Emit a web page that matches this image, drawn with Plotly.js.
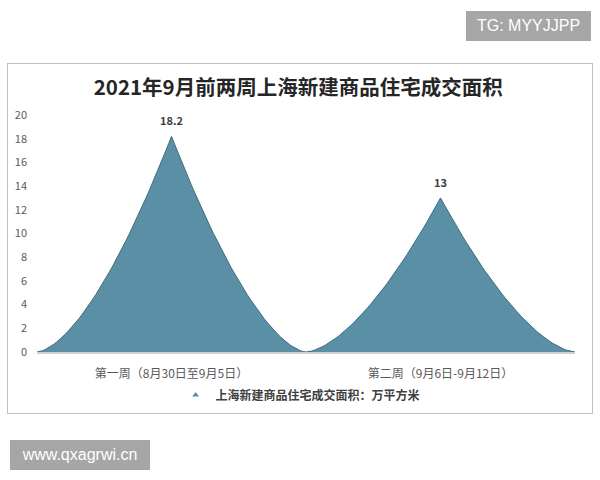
<!DOCTYPE html>
<html>
<head>
<meta charset="utf-8">
<script src="https://cdn.plot.ly/plotly-3.0.1.min.js"></script>
<style>
  html, body { margin: 0; padding: 0; background: #ffffff; }
  #wrap { position: relative; width: 600px; height: 480px; overflow: hidden; }
  #chart { position: absolute; left: 0; top: 0; width: 600px; height: 480px; }
  .frame { position: absolute; left: 7px; top: 63px; width: 584px; height: 349px; border: 1px solid #bfbfbf; pointer-events: none; }
  .wm { position: absolute; background: #a6a6a6; color: #ffffff; font-family: "Liberation Sans", Arial, sans-serif; font-size: 16px; display: flex; align-items: center; justify-content: center; }
</style>
</head>
<body>
<div id="wrap">
  <div id="chart"></div>
  <div class="frame"></div>
  <div class="wm" style="left:466px; top:11px; width:125px; height:30px;">TG: MYYJJPP</div>
  <div class="wm" style="left:10px; top:440px; width:140px; height:30px;">www.qxagrwi.cn</div>
</div>
<script>
const chartTitle = '2021年9月前两周上海新建商品住宅成交面积';
const categories = ['第一周（8月30日至9月5日）', '第二周（9月6日-9月12日）'];
const values = [18.2, 13];
const valueLabels = ['18.2', '13'];
const seriesName = '上海新建商品住宅成交面积：万平方米';
const yTickVals = [0, 2, 4, 6, 8, 10, 12, 14, 16, 18, 20];

const FILL = '#5b8fa5';
const EDGE = '#3f6d7e';
const FONT = '"Noto Sans CJK SC", "Noto Sans", sans-serif';

// Build a concave "peak" outline for each category from its value
function peak(i, v) {
  const n = 48, p = 1.6;
  const xs = [], ys = [];
  for (let k = 0; k <= n; k++) {
    const t = k / n;
    xs.push(i - 0.5 + 0.5 * t);
    ys.push(v * Math.pow(t, p));
  }
  for (let k = n - 1; k >= 0; k--) {
    const t = k / n;
    xs.push(i + 0.5 - 0.5 * t);
    ys.push(v * Math.pow(t, p));
  }
  return { xs, ys };
}

const traces = [];
values.forEach((v, i) => {
  const pk = peak(i, v);
  traces.push({
    type: 'scatter', mode: 'lines',
    x: pk.xs, y: pk.ys,
    fill: 'toself', fillcolor: FILL,
    line: { color: EDGE, width: 1 },
    showlegend: false, hoverinfo: 'skip', cliponaxis: false
  });
});

// legend entry
traces.push({
  type: 'scatter', mode: 'markers',
  x: [null], y: [null],
  name: seriesName,
  marker: { symbol: 'triangle-up', size: 6, color: FILL },
  showlegend: true
});

const annotations = values.map((v, i) => ({
  x: i, y: v, xref: 'x', yref: 'y',
  text: '<b>' + valueLabels[i] + '</b>',
  showarrow: false, yanchor: 'bottom', yshift: 6,
  font: { family: FONT, size: 11, color: '#404040' }
}));

const layout = {
  width: 600, height: 480,
  paper_bgcolor: 'rgba(0,0,0,0)',
  plot_bgcolor: 'rgba(0,0,0,0)',
  margin: { l: 37, r: 25, t: 115, b: 128 },
  title: {
    text: '<b>' + chartTitle + '</b>',
    x: 0.497, xanchor: 'center',
    y: 1 - 88 / 480, yanchor: 'middle',
    font: { family: FONT, size: 20.5, color: '#262626' }
  },
  annotations: annotations,
  xaxis: {
    range: [-0.5, 1.5],
    tickmode: 'array',
    tickvals: categories.map((c, i) => i),
    ticktext: categories,
    showgrid: false, zeroline: false,
    showline: true, linecolor: '#d0d0d0', linewidth: 2,
    ticks: '',
    ticklabelstandoff: 10,
    tickfont: { family: FONT, size: 12, color: '#595959' },
    fixedrange: true
  },
  yaxis: {
    range: [0, 20],
    tickmode: 'array',
    tickvals: yTickVals,
    showgrid: false, zeroline: false, showline: false,
    ticks: '',
    ticklabelstandoff: 9,
    tickfont: { family: FONT, size: 11, color: '#595959' },
    fixedrange: true
  },
  showlegend: true,
  legend: {
    orientation: 'h',
    x: 0.49, xanchor: 'center',
    y: (352 - 395) / 237, yanchor: 'middle',
    font: { family: FONT, size: 12, color: '#404040', weight: 'bold' },
    itemwidth: 30,
    bgcolor: 'rgba(0,0,0,0)'
  }
};

Plotly.newPlot('chart', traces, layout, { staticPlot: true, displayModeBar: false });
</script>
</body>
</html>
